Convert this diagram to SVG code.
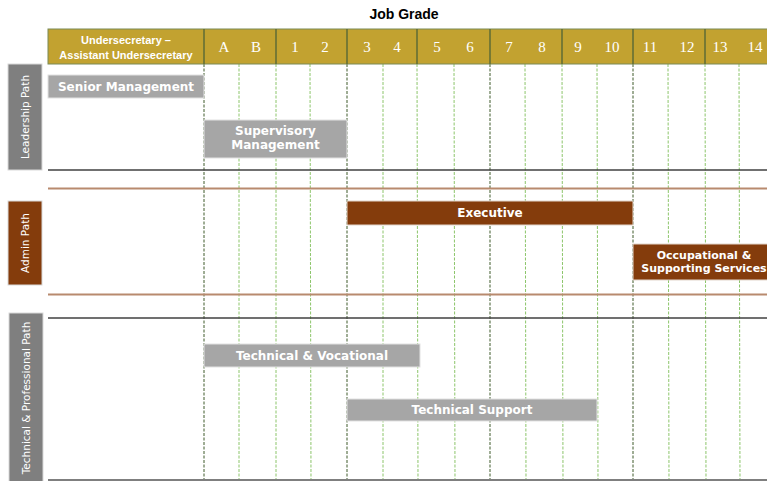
<svg xmlns="http://www.w3.org/2000/svg" width="767" height="481" viewBox="0 0 767 481">
<style>
.bg{fill:#ffffff}
.hdr{fill:#C2A230}
.hdiv{stroke:#5E6B34;stroke-width:1.5}
.num{font-family:"Liberation Serif","Times New Roman",serif;font-size:15px;fill:#ffffff;text-anchor:middle}
.htxt{font-family:"Liberation Sans",Arial,sans-serif;font-weight:bold;font-size:11px;fill:#ffffff;text-anchor:middle}
.title{font-family:"Liberation Sans",Arial,sans-serif;font-weight:bold;font-size:14px;fill:#000000;text-anchor:middle}
.major{stroke:#3F5A2A;stroke-width:1;stroke-dasharray:3 1.5}
.minor{stroke:#8CC56A;stroke-width:1;stroke-dasharray:3 1.5}
.gbar{fill:#A6A6A6;stroke:#E2E2E2;stroke-width:1}
.bbar{fill:#843C0C;stroke:#E2D6CC;stroke-width:1}
.btxt{font-family:"DejaVu Sans",Verdana,sans-serif;font-weight:bold;font-size:12px;fill:#ffffff;text-anchor:middle}
.small{font-size:11px}
.side{font-family:"DejaVu Sans",Verdana,sans-serif;font-size:10.5px;fill:#ffffff;text-anchor:middle}
.gside{fill:#7F7F7F;stroke:#D9D9D9;stroke-width:1}
.bside{fill:#843C0C;stroke:#D9D9D9;stroke-width:1}
.hl-dark{stroke:#404040;stroke-width:1.5}
.hl-brown{stroke:#B88A6E;stroke-width:2}
</style>
<rect class="bg" x="0" y="0" width="767" height="481"/>
<text class="title" x="404" y="19">Job Grade</text>

<g id="grid">
  <line class="minor" x1="239" y1="64" x2="239" y2="481"/>
  <line class="minor" x1="276" y1="64" x2="276" y2="481"/>
  <line class="minor" x1="310" y1="64" x2="311" y2="481"/>
  <line class="minor" x1="383" y1="64" x2="383" y2="481"/>
  <line class="minor" x1="417" y1="64" x2="418" y2="481"/>
  <line class="minor" x1="454" y1="64" x2="455" y2="481"/>
  <line class="minor" x1="525" y1="64" x2="526" y2="481"/>
  <line class="minor" x1="562" y1="64" x2="563" y2="481"/>
  <line class="minor" x1="597" y1="64" x2="598" y2="481"/>
  <line class="minor" x1="668" y1="64" x2="669" y2="481"/>
  <line class="minor" x1="705" y1="64" x2="706" y2="481"/>
  <line class="minor" x1="739" y1="64" x2="740" y2="481"/>
  <line class="major" x1="204" y1="64" x2="204" y2="481"/>
  <line class="major" x1="347" y1="64" x2="347" y2="481"/>
  <line class="major" x1="490" y1="64" x2="490" y2="481"/>
  <line class="major" x1="633" y1="64" x2="633" y2="481"/>
  <line class="hl-dark" x1="48" y1="170" x2="767" y2="170"/>
  <line class="hl-brown" x1="48" y1="188.5" x2="767" y2="188.5"/>
  <line class="hl-brown" x1="48" y1="294.5" x2="767" y2="294.5"/>
  <line class="hl-dark" x1="48" y1="318" x2="767" y2="318"/>
  <line stroke="#7F7F7F" stroke-width="2" x1="48" y1="480" x2="767" y2="480"/>
</g>

<g id="header">
  <rect class="hdr" x="48" y="29" width="725" height="35" stroke="#7A8A55" stroke-width="1"/>
  <line class="hdiv" x1="204" y1="29" x2="204" y2="64"/>
  <line class="hdiv" x1="276" y1="29" x2="276" y2="64"/>
  <line class="hdiv" x1="347" y1="29" x2="347" y2="64"/>
  <line class="hdiv" x1="417" y1="29" x2="417" y2="64"/>
  <line class="hdiv" x1="490" y1="29" x2="490" y2="64"/>
  <line class="hdiv" x1="562" y1="29" x2="562" y2="64"/>
  <line class="hdiv" x1="633" y1="29" x2="633" y2="64"/>
  <line class="hdiv" x1="705" y1="29" x2="705" y2="64"/>
  <text class="htxt" x="126" y="44">Undersecretary –</text>
  <text class="htxt" x="126" y="59">Assistant Undersecretary</text>
  <text class="num" x="224" y="52">A</text>
  <text class="num" x="256" y="52">B</text>
  <text class="num" x="295" y="52">1</text>
  <text class="num" x="325" y="52">2</text>
  <text class="num" x="367" y="52">3</text>
  <text class="num" x="397" y="52">4</text>
  <text class="num" x="437" y="52">5</text>
  <text class="num" x="470" y="52">6</text>
  <text class="num" x="509" y="52">7</text>
  <text class="num" x="542" y="52">8</text>
  <text class="num" x="578" y="52">9</text>
  <text class="num" x="612" y="52">10</text>
  <text class="num" x="650" y="52">11</text>
  <text class="num" x="687" y="52">12</text>
  <text class="num" x="720" y="52">13</text>
  <text class="num" x="755" y="52">14</text>
</g>

<g id="leadership-path">
  <rect class="gside" x="8" y="64" width="34" height="106"/>
  <text class="side" transform="translate(29,117) rotate(-90)">Leadership Path</text>
</g>
<g id="admin-path">
  <rect class="bside" x="8" y="201" width="34" height="84"/>
  <text class="side" transform="translate(29,243) rotate(-90)">Admin Path</text>
</g>
<g id="technical-path">
  <rect class="gside" x="9" y="313" width="34" height="170"/>
  <text class="side" transform="translate(30,398) rotate(-90)">Technical &amp; Professional Path</text>
</g>

<g id="senior-management">
  <rect class="gbar" x="48" y="75" width="156" height="23"/>
  <text class="btxt" x="126" y="91">Senior Management</text>
</g>
<g id="supervisory-management">
  <rect class="gbar" x="204" y="120" width="143" height="38"/>
  <text class="btxt" x="275.5" y="135">Supervisory</text>
  <text class="btxt" x="275.5" y="149">Management</text>
</g>
<g id="executive">
  <rect class="bbar" x="347" y="201" width="286" height="24"/>
  <text class="btxt" x="490" y="217">Executive</text>
</g>
<g id="occupational-supporting-services">
  <rect class="bbar" x="633" y="244" width="145" height="36"/>
  <text class="btxt small" x="704" y="259">Occupational &amp;</text>
  <text class="btxt small" x="704" y="272">Supporting Services</text>
</g>
<g id="technical-vocational">
  <rect class="gbar" x="204" y="344" width="216" height="23"/>
  <text class="btxt" x="312" y="360">Technical &amp; Vocational</text>
</g>
<g id="technical-support">
  <rect class="gbar" x="347" y="399" width="250" height="22"/>
  <text class="btxt" x="472" y="414">Technical Support</text>
</g>
</svg>
